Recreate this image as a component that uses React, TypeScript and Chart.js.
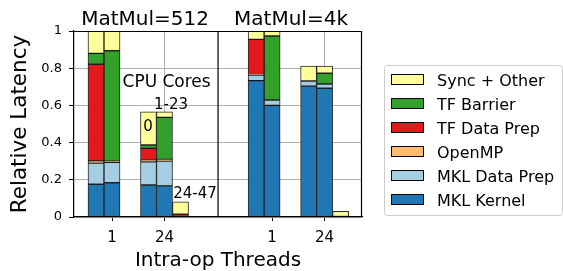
import React, { useEffect, useRef } from "react";
import { Chart, registerables } from "chart.js";
Chart.register(...registerables);

const FONT = "DejaVu Sans";

// ---- data ----
const panelTitles = ["MatMul=512", "MatMul=4k"];
const threadLabels = ["1", "24"];
const coreGroups = ["0", "1-23", "24-47"];
const seriesNames = ["MKL Kernel", "MKL Data Prep", "OpenMP", "TF Data Prep", "TF Barrier", "Sync + Other"];
const seriesColors = ["#1f78b4", "#a6cee3", "#fdbf6f", "#e31a1c", "#33a02c", "#ffff99"];

// order: panel (512, 4k) -> threads (1, 24) -> core group (0, 1-23, 24-47)
const mklKernel = [0.176, 0.184, 0, 0.172, 0.167, 0, 0.733, 0.6, 0, 0.704, 0.692, 0];
const mklDataPrep = [0.114, 0.11, 0, 0.125, 0.134, 0, 0.03, 0.029, 0, 0.027, 0.023, 0];
const openMP = [0.012, 0.006, 0, 0.009, 0.009, 0, 0.003, 0, 0, 0, 0, 0];
const tfDataPrep = [0.519, 0, 0, 0.063, 0, 0.015, 0.189, 0, 0, 0, 0, 0];
const tfBarrier = [0.059, 0.594, 0, 0.018, 0.226, 0, 0, 0.344, 0, 0, 0.058, 0];
const syncOther = [0.12, 0.106, 0, 0.179, 0.03, 0.067, 0.045, 0.027, 0, 0.081, 0.039, 0.031];
const seriesValues = [mklKernel, mklDataPrep, openMP, tfDataPrep, tfBarrier, syncOther];

const yTitle = "Relative Latency";
const xTitle = "Intra-op Threads";
const annotations = [
  { text: "CPU Cores", x: 1.04, y: 0.699, size: 17 },
  { text: "1-23", x: 1.124, y: 0.579, size: 15 },
  { text: "0", x: 0.686, y: 0.464, size: 15 },
  { text: "24-47", x: 1.581, y: 0.104, size: 15 },
];

// ---- layout (axis units) ----
const panelOffsets = [0, 3.05];
const barStep = 0.305;
const dividerX = 2.02;
const xMin = -0.724;
const xMax = 4.762;

const barX: number[] = [];
panelOffsets.forEach((po) =>
  threadLabels.forEach((_, ti) => coreGroups.forEach((_, ci) => barX.push(po + ti + (ci - 1) * barStep)))
);
const tickVals: number[] = [];
const tickText: string[] = [];
panelOffsets.forEach((po) =>
  threadLabels.forEach((t, ti) => {
    tickVals.push(po + ti);
    tickText.push(t);
  })
);

const overlay = {
  id: "overlay",
  afterDraw(chart: any) {
    const { ctx, chartArea: a, scales } = chart;
    const xs = scales.x;
    const ys = scales.y;
    const dx = xs.getPixelForValue(dividerX);
    ctx.save();
    ctx.strokeStyle = "#000";
    ctx.lineWidth = 1.2;
    ctx.beginPath();
    ctx.moveTo(a.left, a.top + 0.5);
    ctx.lineTo(a.right, a.top + 0.5);
    ctx.moveTo(a.right - 0.5, a.top);
    ctx.lineTo(a.right - 0.5, a.bottom);
    ctx.moveTo(dx, a.top);
    ctx.lineTo(dx, a.bottom);
    ctx.stroke();

    ctx.fillStyle = "#000";
    ctx.textAlign = "center";
    ctx.textBaseline = "alphabetic";
    ctx.font = `20px "${FONT}"`;
    ctx.fillText(panelTitles[0], (a.left + dx) / 2 - 1, 25);
    ctx.fillText(panelTitles[1], (dx + a.right) / 2 + 1, 25);

    annotations.forEach((an) => {
      ctx.font = `${an.size}px "${FONT}"`;
      ctx.fillText(an.text, xs.getPixelForValue(an.x), ys.getPixelForValue(an.y));
    });

    // legend
    const lx = 384.5, ly = 65.5, lw = 178, lh = 150, r = 3;
    ctx.beginPath();
    ctx.moveTo(lx + r, ly);
    ctx.lineTo(lx + lw - r, ly);
    ctx.quadraticCurveTo(lx + lw, ly, lx + lw, ly + r);
    ctx.lineTo(lx + lw, ly + lh - r);
    ctx.quadraticCurveTo(lx + lw, ly + lh, lx + lw - r, ly + lh);
    ctx.lineTo(lx + r, ly + lh);
    ctx.quadraticCurveTo(lx, ly + lh, lx, ly + lh - r);
    ctx.lineTo(lx, ly + r);
    ctx.quadraticCurveTo(lx, ly, lx + r, ly);
    ctx.closePath();
    ctx.fillStyle = "rgba(255,255,255,0.8)";
    ctx.fill();
    ctx.strokeStyle = "#cccccc";
    ctx.lineWidth = 1;
    ctx.stroke();

    ctx.textAlign = "left";
    ctx.font = `16px "${FONT}"`;
    const n = seriesNames.length;
    for (let k = 0; k < n; k++) {
      const i = n - 1 - k;
      const cy = 79.5 + k * 24;
      ctx.fillStyle = seriesColors[i];
      ctx.fillRect(391, cy - 5.5, 33, 11);
      ctx.strokeStyle = "#000";
      ctx.strokeRect(391.5, cy - 5, 32, 10);
      ctx.fillStyle = "#000";
      ctx.fillText(seriesNames[i], 437, cy + 6);
    }
    ctx.restore();
  },
};

export default function App() {
  const ref = useRef<HTMLCanvasElement>(null);
  useEffect(() => {
    const datasets = seriesNames.map((name, i) => ({
      label: name,
      data: seriesValues[i].map((v, j) => ({ x: barX[j], y: v === 0 ? null : v })),
      backgroundColor: seriesColors[i],
      borderColor: "rgba(0,0,0,0.85)",
      borderWidth: 1,
      borderSkipped: false,
      barThickness: 16,
    }));
    const chart = new Chart(ref.current as HTMLCanvasElement, {
      type: "bar",
      data: { datasets } as any,
      plugins: [overlay],
      options: {
        animation: false,
        responsive: false,
        layout: { padding: { left: 0, right: 201, top: 31, bottom: 0 } },
        plugins: { legend: { display: false }, tooltip: { enabled: false } },
        scales: {
          x: {
            type: "linear",
            min: xMin,
            max: xMax,
            offset: false,
            stacked: true,
            afterBuildTicks: (s: any) => {
              s.ticks = tickVals.map((v) => ({ value: v }));
            },
            afterFit: (s: any) => {
              s.height = 54;
            },
            ticks: {
              autoSkip: false,
              maxRotation: 0,
              padding: 8,
              color: "#000",
              font: { family: FONT, size: 15 },
              callback: (v: any) => {
                const i = tickVals.findIndex((t) => Math.abs(t - v) < 1e-6);
                return i >= 0 ? tickText[i] : "";
              },
            },
            grid: { offset: false, color: "#b0b0b0", tickColor: "#000", tickLength: 4, lineWidth: 1 },
            border: { color: "#000", width: 1.2 },
            title: {
              display: true,
              text: xTitle,
              color: "#000",
              font: { family: FONT, size: 20, lineHeight: 1 },
              padding: { top: 0, bottom: 0 },
            },
          },
          y: {
            min: 0,
            max: 1,
            stacked: true,
            afterFit: (s: any) => {
              s.width = 74;
            },
            ticks: {
              stepSize: 0.2,
              padding: 7,
              color: "#000",
              font: { family: FONT, size: 13 },
              callback: (v: any) => String(Number(Number(v).toFixed(1))),
            },
            grid: { color: "#b0b0b0", tickColor: "#000", tickLength: 5, lineWidth: 1 },
            border: { color: "#000", width: 1.2 },
            title: {
              display: true,
              text: yTitle,
              color: "#000",
              font: { family: FONT, size: 21.5, lineHeight: 1.2 },
              padding: { top: 8, bottom: 0 },
            },
          },
        },
      } as any,
    });
    return () => chart.destroy();
  }, []);
  return (
    <div style={{ position: "absolute", left: 0, top: 0, width: 563, height: 271, background: "#fff" }}>
      <canvas ref={ref} width={563} height={271} style={{ display: "block", width: 563, height: 271 }} />
    </div>
  );
}
